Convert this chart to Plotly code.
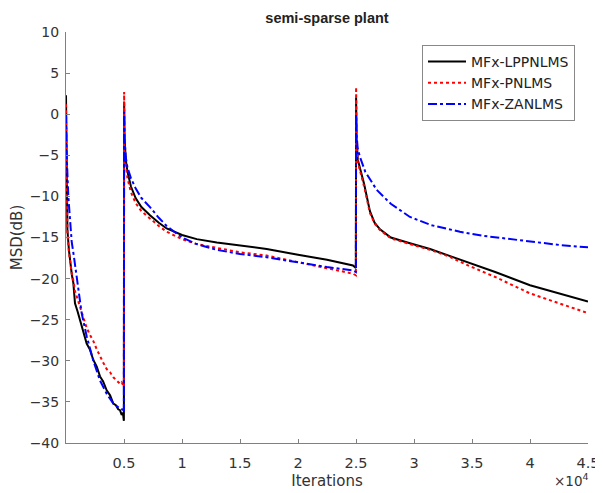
import plotly.graph_objects as go

# ---- data (x in iterations, y in dB) ----
lpp_x = [0, 30, 60, 120, 250, 400, 500, 630, 776, 1000, 1207, 1500, 1782, 2050, 2356, 2650, 2931, 3200, 3506, 3800, 4080, 4300, 4500, 4655, 4800, 4900, 4990,
         5010, 5050, 5150, 5300, 5600, 6000, 6500, 7240, 8000, 8680, 10000, 11270, 13000, 15000, 17300, 20000, 22500, 24740, 24990,
         25010, 25050, 25150, 25340, 25700, 26200, 26600, 27070, 28000, 29650, 31380, 33000, 34830, 37000, 40000, 42500, 45000]
lpp_y = [2.3, -4.0, -9.5, -14.0, -16.5, -18.5, -19.5, -20.5, -23.0, -24.0, -25.1, -26.6, -27.9, -28.6, -29.9, -30.7, -31.9, -32.5, -33.6, -34.2, -35.2, -35.4, -35.9, -36.0, -36.6, -36.3, -37.3,
         1.5, -3.0, -5.5, -7.0, -8.8, -10.2, -11.3, -12.3, -13.2, -13.9, -14.7, -15.2, -15.6, -16.0, -16.4, -17.1, -17.7, -18.4, -18.7,
         2.0, -3.0, -5.5, -6.5, -8.5, -11.8, -13.2, -14.0, -15.0, -15.7, -16.4, -17.2, -18.1, -19.2, -20.8, -21.8, -22.8]

pn_x = [0, 30, 60, 120, 250, 400, 500, 630, 776, 1000, 1207, 1500, 1782, 2050, 2356, 2650, 2931, 3200, 3506, 3800, 4080, 4300, 4655, 4800, 4990,
        5010, 5050, 5150, 5300, 5600, 6000, 6500, 7240, 8000, 8680, 10000, 11270, 13000, 15000, 17300, 20000, 22500, 24740, 24990,
        25010, 25050, 25150, 25340, 25700, 26200, 26600, 27070, 28000, 29650, 31380, 33000, 34830, 37000, 40000, 42500, 45000]
pn_y = [1.2, -4.5, -10.0, -14.5, -16.8, -18.6, -19.4, -20.2, -21.5, -22.5, -23.5, -24.8, -26.0, -26.8, -27.6, -28.6, -29.5, -30.2, -31.0, -31.4, -32.0, -32.3, -32.8, -32.6, -33.2,
        2.7, -3.5, -6.0, -7.8, -9.5, -10.8, -11.8, -12.7, -13.6, -14.3, -15.2, -15.8, -16.3, -16.8, -17.2, -18.0, -18.7, -19.4, -19.6,
        3.3, -3.0, -5.8, -6.8, -8.8, -12.0, -13.3, -14.1, -15.1, -15.8, -16.5, -17.3, -18.5, -19.8, -21.8, -23.0, -24.2]

za_x = [0, 60, 200, 400, 490, 700, 920, 1350, 1782, 2356, 2931, 3506, 4080, 4655, 4990,
        5010, 5050, 5150, 5300, 5600, 6000, 6500, 7240, 8000, 8680, 10000, 11270, 13000, 15000, 17300, 20000, 22500, 24740, 24990,
        25010, 25050, 25150, 25340, 25800, 26780, 28000, 29650, 31500, 33960, 36000, 40000, 42500, 45000]
za_y = [0.0, -5.0, -10.0, -14.0, -15.5, -17.5, -20.0, -24.2, -27.0, -30.0, -32.4, -34.0, -35.2, -35.8, -36.0,
        0.3, -3.0, -5.2, -6.5, -7.8, -9.0, -10.2, -11.3, -12.6, -13.6, -15.0, -15.8, -16.5, -17.0, -17.4, -18.0, -18.6, -19.0, -19.2,
        0.0, -2.5, -4.2, -5.2, -7.0, -9.2, -10.9, -12.5, -13.5, -14.3, -14.8, -15.5, -15.9, -16.2]

x_tick_vals = [5000, 10000, 15000, 20000, 25000, 30000, 35000, 40000, 45000]
x_tick_text = ["0.5", "1", "1.5", "2", "2.5", "3", "3.5", "4", "4.5"]
y_tick_vals = [-40, -35, -30, -25, -20, -15, -10, -5, 0, 5, 10]

series_names = ["MFx-LPPNLMS", "MFx-PNLMS", "MFx-ZANLMS"]

FONT = "DejaVu Sans, Arial, sans-serif"
TFONT = "Liberation Sans, Arial, sans-serif"
AX = "#808080"
TXT = "#333333"

# the page body has an 8px margin, so the figure is 8px smaller on each side
W, H = 595, 485
L, T = 58, 24
PW, PH = 522, 411

fig = go.Figure()
fig.add_trace(go.Scatter(x=lpp_x, y=lpp_y, mode="lines", name=series_names[0],
                         line=dict(color="black", width=2)))
fig.add_trace(go.Scatter(x=pn_x, y=pn_y, mode="lines", name=series_names[1],
                         line=dict(color="red", width=2, dash="dot")))
fig.add_trace(go.Scatter(x=za_x, y=za_y, mode="lines", name=series_names[2],
                         line=dict(color="blue", width=2, dash="dashdot")))

fig.update_layout(
    width=W, height=H,
    margin=dict(l=L, r=W - L - PW, t=T, b=H - T - PH, autoexpand=False),
    paper_bgcolor="white", plot_bgcolor="white",
    font=dict(family=FONT, size=14, color=TXT),
    title=dict(text="<b>semi-sparse plant</b>", x=(327 - 8) / W, xanchor="center",
               y=1 - (18 - 8) / H, yanchor="middle",
               font=dict(family=TFONT, size=14.5, color="#222222")),
    legend=dict(x=(422 - 66) / PW, y=1 - (45 - 32) / PH, xanchor="left", yanchor="top",
                bgcolor="white", bordercolor="#888888", borderwidth=1,
                font=dict(family=FONT, size=14, color="#222222"), tracegroupgap=0, itemwidth=38),
    showlegend=True,
)
fig.update_xaxes(range=[0, 45000], tickvals=x_tick_vals, ticktext=x_tick_text, automargin=False,
                 ticks="inside", ticklen=4, tickcolor=AX, showline=True, linecolor=AX, linewidth=1,
                 showgrid=False, zeroline=False, mirror=False, ticklabelstandoff=7,
                 title=dict(text="Iterations", font=dict(size=15, color=TXT), standoff=5),
                 tickfont=dict(size=14.5, color=TXT))
fig.update_yaxes(range=[-40, 10], tickvals=y_tick_vals, automargin=False,
                 ticks="inside", ticklen=4, tickcolor=AX, showline=True, linecolor=AX, linewidth=1,
                 showgrid=False, zeroline=False, mirror=False, ticklabelstandoff=3,
                 title=dict(text="MSD(dB)", font=dict(size=15, color=TXT), standoff=6),
                 tickfont=dict(size=14, color=TXT))
fig.add_annotation(text="×10<sup>4</sup>", xref="paper", yref="paper", x=1.005, y=-(480 - 443) / PH,
                   xanchor="right", yanchor="middle", showarrow=False,
                   font=dict(size=13.5, color=TXT))

fig.write_html("out.html")
